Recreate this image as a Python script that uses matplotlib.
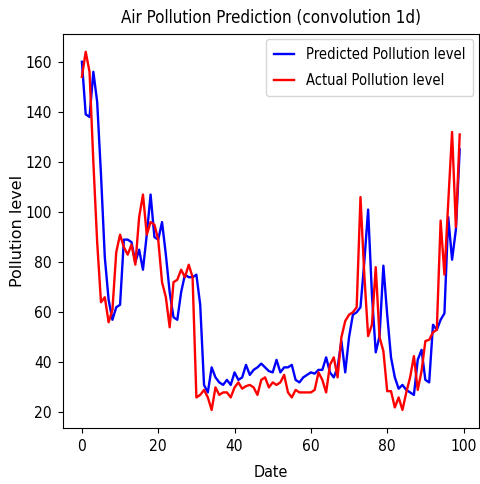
import matplotlib
matplotlib.use("Agg")
import matplotlib.pyplot as plt
import numpy as np

# values
predicted = [160, 139, 138, 156, 144, 115, 82, 65, 57, 62,
             63, 89, 89, 88, 80, 85, 77, 91, 107, 90,
             89, 96, 83, 68, 58, 57, 68, 75, 74, 74,
             75, 63, 31, 28, 38, 34, 32, 31, 33, 31,
             36, 33, 34, 39, 35, 37, 38, 39.5, 38, 36.5,
             36, 41, 36, 38, 38, 39, 33, 32, 34, 35,
             36, 35.5, 37, 37, 42, 36, 34, 38, 48.5, 36,
             50, 59, 60, 62, 80, 101, 67, 44, 50.5, 78.6,
             59, 42, 34, 29.5, 31, 29, 28, 27, 41, 45,
             33, 32, 55, 53, 57, 59.6, 98, 81, 93, 125]

actual = [154, 164, 156, 120, 88, 64, 66, 56, 61, 84,
          91, 86, 83, 87, 79, 98, 107, 91, 96, 95,
          89, 72, 66, 54, 72, 73, 77, 74, 79, 74,
          26, 27, 29, 26, 21, 30, 27, 28, 28, 26,
          30, 32, 29.5, 30.5, 31, 30, 27, 33, 34, 30,
          32, 31, 32, 35, 28, 26, 29, 28, 28, 28,
          28, 29, 36, 33, 28, 39, 42, 34, 50, 56.5,
          59, 60, 62, 106, 75, 50.5, 55, 78, 50, 44.5,
          28.5, 28.5, 22, 26, 21, 28, 34, 42.5, 29, 36.5,
          48.5, 49, 52, 53, 96.6, 75, 104, 132, 94, 131]

plt.rcParams['font.family'] = ['DejaVu Sans']
plt.rcParams['font.stretch'] = 'condensed'

fig = plt.figure(figsize=(4.81, 4.84), dpi=100)
ax = fig.add_axes([0.131, 0.116, 0.864, 0.814])

ax.plot(predicted, color="blue", linewidth=1.7, label="Predicted Pollution level")
ax.plot(actual, color="red", linewidth=1.7, label="Actual Pollution level")

ax.set_title("Air Pollution Prediction (convolution 1d)", fontsize=12.2, pad=8)
ax.set_xlabel("Date", fontsize=11.5, labelpad=8)
ax.set_ylabel("Pollution level", fontsize=11.5, stretch='normal', labelpad=0.5)
ax.tick_params(labelsize=11.2, pad=4.5)
ax.legend(loc="upper right", fontsize=10.5, handlelength=1.4,
          borderaxespad=0.35, labelspacing=0.75, borderpad=0.55)

fig.savefig("out.png", dpi=100)
